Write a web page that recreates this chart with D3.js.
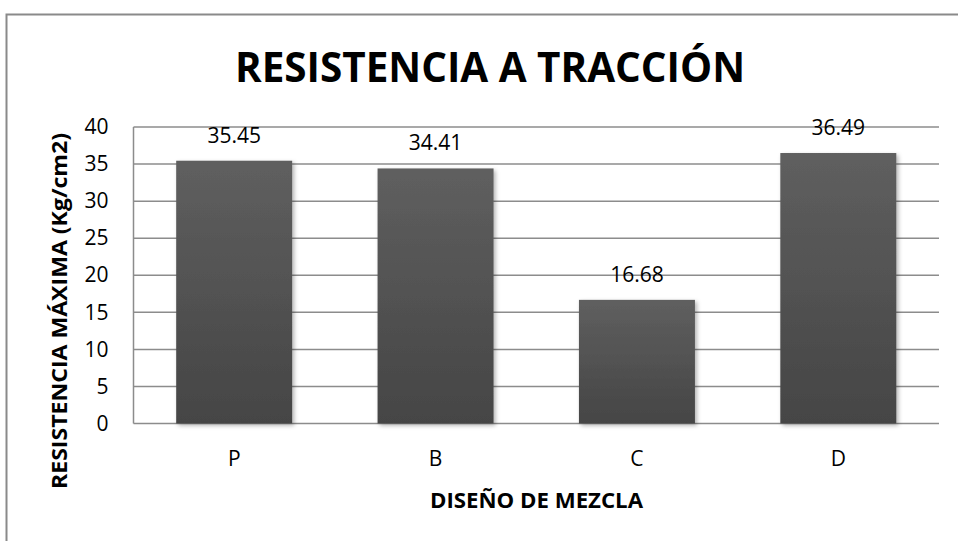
<!DOCTYPE html>
<html lang="es">
<head>
<meta charset="UTF-8">
<title>Resistencia a tracción</title>
<script src="https://cdn.jsdelivr.net/npm/d3@7"></script>
<style>
  body { margin: 0; background: #fff; }
  svg { display: block; font-family: "Open Sans", "Noto Sans", sans-serif; }
</style>
</head>
<body>
<svg id="chart" width="958" height="541"></svg>
<script>
// data
const categories = ["P", "B", "C", "D"];
const values = [35.45, 34.41, 16.68, 36.49];
const yTicks = [0, 5, 10, 15, 20, 25, 30, 35, 40];
const titleText = "RESISTENCIA A TRACCIÓN";
const xTitle = "DISEÑO DE MEZCLA";
const yTitle = "RESISTENCIA MÁXIMA (Kg/cm2)";

const svg = d3.select("#chart");

// outer frame (runs off the right / bottom edge)
svg.append("rect")
  .attr("x", 6.5).attr("y", 14.5)
  .attr("width", 1000).attr("height", 600)
  .attr("fill", "none")
  .attr("stroke", "#8a8a8a")
  .attr("stroke-width", 2);

// plot area
const plotLeft = 133.5, plotRight = 939, plotTop = 127, plotBottom = 423.5;

const x = d3.scaleBand()
  .domain(categories)
  .range([plotLeft, plotRight])
  .paddingInner(0.424)
  .paddingOuter(0.212);

const y = d3.scaleLinear()
  .domain([0, 40])
  .range([plotBottom, plotTop]);

// defs: gradient + shadow
const defs = svg.append("defs");
const grad = defs.append("linearGradient")
  .attr("id", "barGrad")
  .attr("x1", 0).attr("y1", 0).attr("x2", 0).attr("y2", 1);
grad.append("stop").attr("offset", "0%").attr("stop-color", "#5f5f5f");
grad.append("stop").attr("offset", "100%").attr("stop-color", "#454545");

const shadow = defs.append("filter")
  .attr("id", "shadow")
  .attr("x", "-10%").attr("y", "-10%")
  .attr("width", "130%").attr("height", "130%");
shadow.append("feDropShadow")
  .attr("dx", 2).attr("dy", 2)
  .attr("stdDeviation", 2)
  .attr("flood-color", "#000")
  .attr("flood-opacity", 0.3);

// gridlines
svg.append("g")
  .selectAll("line")
  .data(yTicks)
  .enter()
  .append("line")
  .attr("x1", plotLeft).attr("x2", plotRight)
  .attr("y1", d => y(d)).attr("y2", d => y(d))
  .attr("stroke", "#8c8c8c")
  .attr("stroke-width", 1.5);

// value axis line
svg.append("line")
  .attr("x1", plotLeft).attr("x2", plotLeft)
  .attr("y1", plotTop).attr("y2", plotBottom)
  .attr("stroke", "#8c8c8c")
  .attr("stroke-width", 1.5);

// y tick labels
const yAxis = svg.append("g")
  .attr("transform", "translate(" + plotLeft + ",0)")
  .call(d3.axisLeft(y).tickValues(yTicks).tickSize(0).tickPadding(25));
yAxis.select(".domain").remove();
yAxis.selectAll("text")
  .attr("font-family", "'Open Sans', sans-serif")
  .attr("font-size", 21)
  .attr("fill", "#000");

// bars
svg.append("g")
  .selectAll("rect")
  .data(values)
  .enter()
  .append("rect")
  .attr("x", (d, i) => x(categories[i]))
  .attr("y", d => y(d))
  .attr("width", x.bandwidth())
  .attr("height", d => y(0) - y(d))
  .attr("fill", "url(#barGrad)")
  .attr("filter", "url(#shadow)");

// data labels
svg.append("g")
  .selectAll("text")
  .data(values)
  .enter()
  .append("text")
  .attr("x", (d, i) => x(categories[i]) + x.bandwidth() / 2)
  .attr("y", d => y(d) - 18)
  .attr("text-anchor", "middle")
  .attr("font-size", 21)
  .attr("fill", "#000")
  .text(d => d.toFixed(2));

// x category labels
const xAxis = svg.append("g")
  .attr("transform", "translate(0," + plotBottom + ")")
  .call(d3.axisBottom(x).tickSize(0).tickPadding(28));
xAxis.select(".domain").remove();
xAxis.selectAll("text")
  .attr("font-family", "'Open Sans', sans-serif")
  .attr("font-size", 21)
  .attr("fill", "#000");

// title
svg.append("text")
  .attr("x", 235).attr("y", 82)
  .attr("font-size", 42)
  .attr("font-weight", "bold")
  .attr("textLength", 510)
  .attr("lengthAdjust", "spacingAndGlyphs")
  .text(titleText);

// x axis title
svg.append("text")
  .attr("x", 430).attr("y", 508)
  .attr("font-size", 21)
  .attr("font-weight", "bold")
  .attr("textLength", 213)
  .attr("lengthAdjust", "spacingAndGlyphs")
  .text(xTitle);

// y axis title
svg.append("text")
  .attr("transform", "translate(67,489) rotate(-90)")
  .attr("font-size", 21)
  .attr("font-weight", "bold")
  .attr("textLength", 356)
  .attr("lengthAdjust", "spacingAndGlyphs")
  .text(yTitle);
</script>
</body>
</html>
